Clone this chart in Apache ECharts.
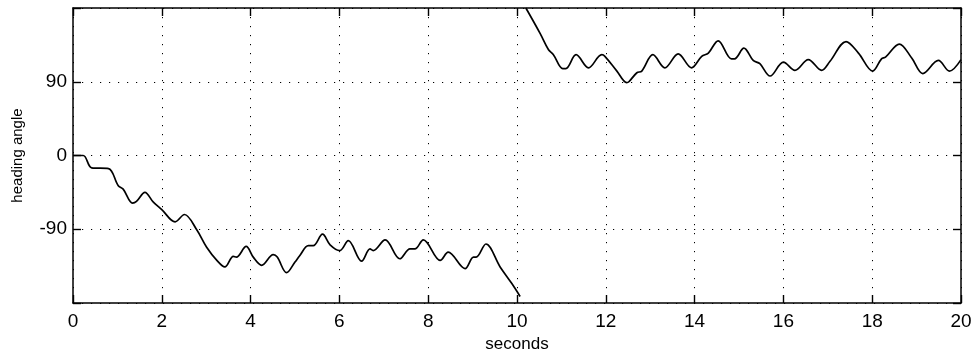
<!DOCTYPE html>
<html><head><meta charset="utf-8">
<script src="https://cdn.jsdelivr.net/npm/echarts@6/dist/echarts.min.js"></script>
<style>html,body{margin:0;padding:0;background:#fff}#c{width:977px;height:360px}</style>
</head><body><div id="c"></div>
<script>
const xTicks = [0,2,4,6,8,10,12,14,16,18,20];
const yTicks = [-180,-90,0,90,180];
const lowerT = [0,0.23,0.42,0.80,1.02,1.13,1.34,1.43,1.62,1.81,2.0,2.30,2.51,2.79,3.01,3.24,3.42,3.61,3.68,3.90,4.06,4.25,4.51,4.60,4.81,5.0,5.11,5.30,5.41,5.62,5.79,6.01,6.20,6.50,6.69,6.76,7.03,7.36,7.59,7.70,7.89,8.27,8.45,8.83,9.02,9.08,9.30,9.62,9.88,10.07];
const lowerV = [0,0,-15,-16,-37,-41,-58,-56,-45,-57,-66,-81,-72,-91,-112,-128,-136,-123,-124,-111,-124,-134,-121,-124,-143,-130,-122,-110,-110,-96,-109,-116,-104,-129,-114,-116,-103,-126,-114,-114,-103,-128,-118,-138,-124,-124,-108,-136,-156,-172];
const upperT = [10.20,10.52,10.71,10.82,11.03,11.10,11.33,11.61,11.91,11.98,12.25,12.47,12.52,12.70,12.81,13.06,13.33,13.63,13.93,14.16,14.31,14.53,14.83,14.90,15.11,15.32,15.47,15.70,16.0,16.26,16.56,16.86,17.05,17.41,17.69,18.01,18.21,18.30,18.61,18.89,19.14,19.49,19.74,20.0];
const upperV = [180,149,129,123,106,106,123,107,123,121,103,89,90,101,103,123,107,124,107,121,125,140,118,118,131,116,112,97,114,104,117,104,115,139,125,103,118,120,136,119,100,116,103,117];

const FONT = 'Liberation Sans, Arial, sans-serif';
const chart = echarts.init(document.getElementById('c'), null, {renderer:'canvas'});
const lineAxis = () => ({show:true, onZero:false, lineStyle:{color:'#000', width:1.5}});
const tickIn = () => ({show:true, inside:true, length:8, lineStyle:{color:'#000', width:1.4}});
const dotted = () => ({show:true, lineStyle:{color:'#000', width:1, type:[1.2,7.8]}});
function xAx(extra){ return Object.assign({type:'value', min:xTicks[0], max:xTicks[xTicks.length-1], interval:2,
  axisLine:lineAxis(), axisTick:tickIn()}, extra); }
function yAx(extra){ return Object.assign({type:'value', min:yTicks[0], max:yTicks[yTicks.length-1], interval:90,
  axisLine:lineAxis(), axisTick:tickIn()}, extra); }
function pairs(t,v){return t.map((x,i)=>[x,v[i]]);}
chart.setOption({
  animation:false,
  backgroundColor:'#fff',
  grid:{left:73, right:16, top:8, bottom:57, containLabel:false},
  xAxis:[
    xAx({position:'bottom', splitLine:dotted(),
      axisLabel:{color:'#000', fontSize:19, fontFamily:FONT, margin:9},
      name:'seconds', nameLocation:'middle', nameGap:30,
      nameTextStyle:{color:'#000', fontSize:17, fontFamily:FONT}}),
    xAx({position:'top', splitLine:{show:false}, axisLabel:{show:false}})
  ],
  yAxis:[
    yAx({position:'left', splitLine:dotted(),
      axisLabel:{color:'#000', fontSize:19, fontFamily:FONT, margin:6,
        formatter:v=> (v===yTicks[0]||v===yTicks[yTicks.length-1]) ? '' : String(v)},
      name:'heading angle', nameLocation:'middle', nameGap:48,
      nameTextStyle:{color:'#000', fontSize:15, fontFamily:FONT}}),
    yAx({position:'right', splitLine:{show:false}, axisLabel:{show:false}})
  ],
  series:[
    {type:'line', data:pairs(lowerT,lowerV), showSymbol:false, smooth:0.35, clip:true,
      lineStyle:{color:'#000', width:1.7}},
    {type:'line', data:pairs(upperT,upperV), showSymbol:false, smooth:0.35, clip:true,
      lineStyle:{color:'#000', width:1.7}}
  ]
});
</script></body></html>
